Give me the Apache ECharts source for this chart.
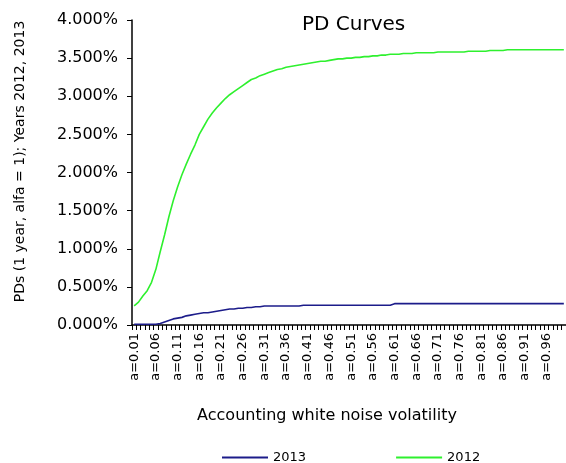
<!DOCTYPE html>
<html>
<head>
<meta charset="utf-8">
<script src="https://cdn.jsdelivr.net/npm/echarts@6/dist/echarts.min.js"></script>
<style>
  html, body { margin: 0; padding: 0; background: #fff; }
  #pdchart { width: 566px; height: 463px; }
</style>
</head>
<body>
<div id="pdchart"></div>
<script>
  // volatility steps a=0.01 .. a=1.00
  var volatility = []
  for (var i = 1; i <= 100; i++) {
    volatility.push('a=' + (i / 100).toFixed(2))
  }

  // PD in percent
  var pd2013 = [
    0.01, 0.01, 0.01, 0.01, 0.01, 0.01, 0.02, 0.04, 0.06, 0.08,
    0.09, 0.10, 0.12, 0.13, 0.14, 0.15, 0.16, 0.16, 0.17, 0.18,
    0.19, 0.20, 0.21, 0.21, 0.22, 0.22, 0.23, 0.23, 0.24, 0.24,
    0.25, 0.25, 0.25, 0.25, 0.25, 0.25, 0.25, 0.25, 0.25, 0.26,
    0.26, 0.26, 0.26, 0.26, 0.26, 0.26, 0.26, 0.26, 0.26, 0.26,
    0.26, 0.26, 0.26, 0.26, 0.26, 0.26, 0.26, 0.26, 0.26, 0.26,
    0.28, 0.28, 0.28, 0.28, 0.28, 0.28, 0.28, 0.28, 0.28, 0.28,
    0.28, 0.28, 0.28, 0.28, 0.28, 0.28, 0.28, 0.28, 0.28, 0.28,
    0.28, 0.28, 0.28, 0.28, 0.28, 0.28, 0.28, 0.28, 0.28, 0.28,
    0.28, 0.28, 0.28, 0.28, 0.28, 0.28, 0.28, 0.28, 0.28, 0.28
  ]
  var pd2012 = [
    0.25, 0.30, 0.38, 0.45, 0.56, 0.73, 0.96, 1.18, 1.42, 1.63,
    1.81, 1.97, 2.11, 2.24, 2.36, 2.50, 2.60, 2.70, 2.78, 2.85,
    2.91, 2.97, 3.02, 3.06, 3.10, 3.14, 3.18, 3.22, 3.24, 3.27,
    3.29, 3.31, 3.33, 3.35, 3.36, 3.38, 3.39, 3.40, 3.41, 3.42,
    3.43, 3.44, 3.45, 3.46, 3.46, 3.47, 3.48, 3.49, 3.49, 3.50,
    3.50, 3.51, 3.51, 3.52, 3.52, 3.53, 3.53, 3.54, 3.54, 3.55,
    3.55, 3.55, 3.56, 3.56, 3.56, 3.57, 3.57, 3.57, 3.57, 3.57,
    3.58, 3.58, 3.58, 3.58, 3.58, 3.58, 3.58, 3.59, 3.59, 3.59,
    3.59, 3.59, 3.60, 3.60, 3.60, 3.60, 3.61, 3.61, 3.61, 3.61,
    3.61, 3.61, 3.61, 3.61, 3.61, 3.61, 3.61, 3.61, 3.61, 3.61
  ]
  var seriesNames = ['2013', '2012']

  var chart = echarts.init(document.getElementById('pdchart'))
  chart.setOption({
    backgroundColor: '#fff',
    animation: false,
    title: {
      text: 'PD Curves',
      left: 297,
      top: 10,
      textStyle: {
        fontFamily: 'DejaVu Sans',
        fontSize: 20,
        fontWeight: 'normal',
        color: '#000'
      }
    },
    legend: {
      data: seriesNames,
      left: 217,
      top: 446,
      icon: 'rect',
      itemWidth: 46,
      itemHeight: 2,
      itemGap: 90,
      textStyle: {
        fontFamily: 'DejaVu Sans',
        fontSize: 13,
        color: '#000'
      }
    },
    grid: {
      left: 132,
      right: 0,
      top: 20,
      bottom: 138,
      outerBoundsMode: 'none'
    },
    xAxis: {
      type: 'category',
      data: volatility,
      boundaryGap: true,
      name: 'Accounting white noise volatility',
      nameLocation: 'middle',
      nameGap: 83,
      nameTextStyle: {
        fontFamily: 'DejaVu Sans',
        fontSize: 16,
        color: '#000',
        padding: [0, 44, 0, 0]
      },
      axisLine: { lineStyle: { color: '#000', width: 1.5 } },
      axisTick: { show: true, interval: 0, length: 5, lineStyle: { color: '#000', width: 1 } },
      axisLabel: {
        interval: 4,
        rotate: 90,
        margin: 8,
        fontFamily: 'DejaVu Sans',
        fontSize: 13,
        color: '#000'
      },
      splitLine: { show: false }
    },
    yAxis: {
      type: 'value',
      min: 0,
      max: 4,
      interval: 0.5,
      name: 'PDs (1 year, alfa = 1); Years 2012, 2013',
      nameLocation: 'middle',
      nameGap: 105,
      nameTextStyle: {
        fontFamily: 'DejaVu Sans',
        fontSize: 14,
        color: '#000',
        padding: [0, 0, 0, 22]
      },
      axisLine: { show: true, lineStyle: { color: '#000', width: 1.5 } },
      axisTick: { show: true, length: 5, lineStyle: { color: '#000' } },
      axisLabel: {
        margin: 14,
        fontFamily: 'DejaVu Sans',
        fontSize: 16,
        color: '#000',
        formatter: function (v) { return v.toFixed(3) + '%' }
      },
      splitLine: { show: false }
    },
    series: [
      {
        name: '2013',
        type: 'line',
        data: pd2013,
        symbol: 'none',
        color: '#1c1c8a',
        lineStyle: { width: 1.6, color: '#1c1c8a' }
      },
      {
        name: '2012',
        type: 'line',
        data: pd2012,
        symbol: 'none',
        color: '#2ef02e',
        lineStyle: { width: 1.6, color: '#2ef02e' }
      }
    ]
  })
</script>
</body>
</html>
